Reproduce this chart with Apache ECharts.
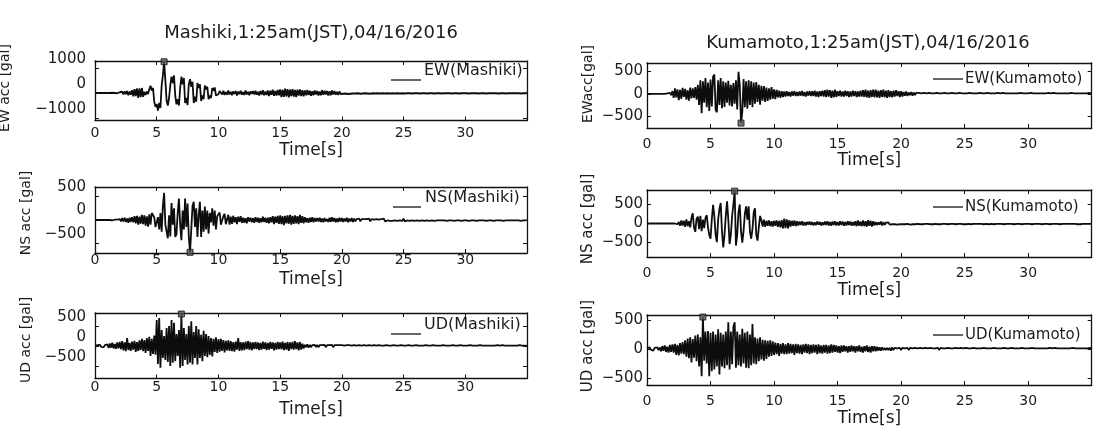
<!DOCTYPE html>
<html><head><meta charset="utf-8">
<script src="https://cdn.jsdelivr.net/npm/echarts@6/dist/echarts.min.js"></script>
<style>html,body{margin:0;padding:0;background:#fff}#c{width:1096px;height:428px}</style>
</head><body><div id="c"></div>
<script>
// ---- data (gal), one sample every DT seconds from 0 to 35 s ----
const DT = 0.1;
const X_TICKS = [0, 5, 10, 15, 20, 25, 30];
const TITLES = ['Mashiki,1:25am(JST),04/16/2016', 'Kumamoto,1:25am(JST),04/16/2016'];
const Y_NAMES = ['EW acc [gal]', 'NS acc [gal]', 'UD acc [gal]', 'EWacc[gal]', 'NS acc [gal]', 'UD acc [gal]'];
const LEGENDS = ['EW(Mashiki)', 'NS(Mashiki)', 'UD(Mashiki)', 'EW(Kumamoto)', 'NS(Kumamoto)', 'UD(Kumamoto)'];
const Y_TICKS_L1 = [-1000, 0, 1000];
const Y_TICKS = [-500, 0, 500];

const ewMashiki = [
0,0,0,0,0,0,0,0,0,0,
0,0,0,0,10,-10,0,10,-10,0,
30,-40,50,-60,70,-50,80,-90,60,-70,
110,-130,150,-120,180,-200,190,-170,200,-150,
50,-80,60,-40,150,290,100,200,-350,-550,
-450,-700,-400,-600,300,700,1250,500,-300,-500,
-200,300,650,400,700,-100,-450,-250,-500,200,
650,350,600,-400,-200,-480,350,550,250,450,
-400,-150,-350,400,200,350,-320,-100,-250,300,
150,250,-250,-100,-200,200,100,220,-100,-150,
-50,80,60,-60,90,-80,40,-70,100,-60,
50,-90,70,-40,80,-100,60,-50,90,-70,
40,-80,100,-60,50,-90,70,-40,80,-60,
90,-70,50,-100,80,-60,110,-90,60,-80,
100,-120,90,-70,130,-110,80,-100,120,-90,
140,-160,120,-150,170,-130,150,-170,130,-120,
150,-140,120,-160,130,-100,140,-120,110,-130,
100,-90,120,-80,90,-110,70,-90,100,-60,
80,-100,60,-90,110,-70,90,-60,80,-100,
70,-90,100,-60,80,-70,50,-80,60,-40,
30,-30,20,-20,40,-40,30,-30,20,-20,
20,-20,10,-10,30,-30,20,-20,10,-10,
20,-20,30,-30,10,-10,20,-20,10,-10,
20,-20,10,-10,20,-20,10,-10,20,-20,
10,-10,20,-20,10,-10,20,-20,10,-10,
20,-20,10,-10,10,-10,20,-20,10,-10,
10,-10,20,-20,10,-10,10,-10,20,-20,
10,-10,10,-10,20,-20,10,-10,10,-10,
20,-20,10,-10,10,-10,10,-10,20,-20,
10,-10,10,-10,20,-20,10,-10,10,-10,
10,-10,20,-20,10,-10,10,-10,10,-10,
20,-20,10,-10,10,-10,20,-20,10,-10,
10,-10,10,-10,10,-10,20,-20,10,-10,
10,-10,20,-20,10,-10,10,-10,10,-10,
10,-10,10,-10,20,-20,10,-10,10,-10,
0];

const nsMashiki = [
0,0,0,0,0,0,0,0,0,0,
0,0,0,10,-10,0,10,-10,10,0,
20,-30,40,-30,50,-40,30,-60,50,-40,
60,-50,80,-70,90,-100,70,-80,110,-90,
100,-120,80,-140,120,-100,150,180,60,-150,
-130,60,-200,150,-250,300,580,-100,-250,-390,
100,-350,360,-100,250,-360,-300,150,460,-100,
-430,200,-200,460,-150,350,-360,-690,-200,300,
390,-150,250,-360,100,390,-360,200,-250,290,
-200,200,-290,150,-50,250,-120,200,-200,80,
120,160,-100,-140,80,130,-90,-60,110,-100,
70,-80,90,-50,60,-90,70,-40,80,-60,
50,-60,40,-70,60,-30,50,-50,40,-60,
60,-40,50,-60,40,-50,70,-40,50,-60,
50,-70,60,-50,80,-90,70,-60,90,-80,
100,-90,80,-110,90,-70,100,-80,110,-100,
90,-80,100,-70,80,-90,110,-60,80,-70,
60,-50,40,-60,50,-40,60,-50,40,-30,
40,-30,50,-40,30,-50,40,-30,20,-40,
50,-40,60,-30,40,-50,30,-40,50,-30,
40,-40,30,-30,50,-50,30,-30,40,-40,
30,-30,20,-20,30,-30,20,-20,20,-20,
20,-20,30,-30,20,-20,10,-10,20,-20,
10,-10,20,-20,30,-30,10,-10,20,-20,
20,-20,10,-10,20,-20,10,-10,20,-20,
30,-30,10,-10,20,-20,10,-10,20,-20,
10,-10,20,-20,10,-10,20,-20,10,-10,
20,-20,10,-10,20,-20,10,-10,10,-10,
10,-10,10,-10,20,-20,10,-10,10,-10,
20,-20,10,-10,10,-10,20,-20,10,-10,
10,-10,20,-20,10,-10,10,-10,20,-20,
10,-10,10,-10,10,-10,20,-20,10,-10,
10,-10,20,-20,10,-10,10,-10,10,-10,
20,-20,10,-10,10,-10,10,-10,10,-10,
10,-10,10,-10,20,-20,10,-10,10,-10,
0];

const udMashiki = [
10,-20,20,-10,30,-20,10,-30,20,-10,
40,-50,60,-40,80,-60,50,-70,90,-60,
100,-80,120,-110,90,-130,200,-100,80,-120,
110,-90,130,-150,100,-120,140,-100,180,-130,
150,-170,200,-120,230,-250,180,-200,260,-220,
650,-450,700,-540,400,-300,250,-350,450,-400,
500,-500,650,-420,580,-380,300,-250,400,-540,
800,-500,450,-350,300,-460,500,-420,620,-460,
350,-300,500,-460,420,-300,280,-380,380,-250,
300,-280,250,-220,200,-260,180,-150,220,-170,
170,-140,180,-120,150,-160,130,-110,140,-120,
120,-130,100,-140,110,-90,200,-120,100,-110,
90,-100,110,-80,120,-90,100,-110,90,-80,
100,-80,90,-100,80,-90,110,-70,90,-100,
80,-90,100,-70,90,-110,80,-90,100,-80,
90,-80,110,-100,80,-90,100,-120,90,-80,
100,-90,120,-80,90,-110,100,-90,60,-60,
30,-30,40,-40,30,-30,20,-20,30,-30,
30,-30,20,-20,20,-20,30,-30,20,-20,
20,-20,30,-30,20,-20,20,-20,20,-20,
20,-20,10,-10,20,-20,20,-20,10,-10,
20,-20,10,-10,20,-20,10,-10,20,-20,
10,-10,20,-20,10,-10,20,-20,10,-10,
20,-20,10,-10,10,-10,20,-20,10,-10,
10,-10,20,-20,10,-10,10,-10,20,-20,
10,-10,10,-10,20,-20,10,-10,10,-10,
20,-20,10,-10,10,-10,10,-10,20,-20,
10,-10,10,-10,20,-20,10,-10,10,-10,
10,-10,20,-20,10,-10,10,-10,10,-10,
20,-20,10,-10,10,-10,20,-20,10,-10,
10,-10,10,-10,20,-20,10,-10,10,-10,
10,-10,20,-20,10,-10,10,-10,10,-10,
10,-10,10,-10,10,-10,20,-20,10,-10,
20,-20,10,-10,10,-10,10,-10,10,-10,
10,-10,10,-10,20,-20,10,-10,10,-10,
0];

const ewKumamoto = [
0,0,0,0,0,0,0,0,0,0,
0,0,0,0,0,0,10,-10,20,-30,
60,-90,120,-80,100,-140,90,-110,130,-70,
110,-130,80,-150,140,-100,120,-90,150,-130,
200,-250,300,-430,280,-200,350,-300,250,-380,
320,-280,380,430,-350,-410,300,-250,350,-320,
280,-290,250,-200,290,-260,200,-280,240,-220,
300,-350,490,200,-650,-400,330,-300,280,-330,
300,-250,280,-300,250,-220,260,-180,200,-240,
180,-150,170,-180,140,-160,120,-130,150,-110,
100,-120,90,-80,70,-90,60,-70,50,-60,
60,-50,40,-60,50,-40,60,-50,40,-50,
50,-40,60,-50,40,-60,50,-40,60,-50,
60,-50,70,-60,50,-70,60,-50,70,-60,
80,-70,90,-60,80,-90,70,-80,90,-70,
60,-50,70,-60,50,-60,70,-50,60,-70,
50,-60,70,-50,60,-70,50,-60,70,-60,
80,-70,90,-80,70,-90,80,-70,90,-80,
90,-80,70,-90,80,-70,90,-80,70,-90,
80,-70,60,-80,70,-60,80,-50,60,-70,
60,-60,40,-40,50,-50,30,-30,40,-40,
30,-30,20,-20,20,-20,10,-10,20,-20,
10,-10,20,-20,10,-10,10,-10,20,-20,
10,-10,10,-10,20,-20,10,-10,10,-10,
20,-20,10,-10,10,-10,20,-20,10,-10,
10,-10,10,-10,20,-20,10,-10,10,-10,
10,-10,20,-20,10,-10,10,-10,20,-20,
10,-10,10,-10,10,-10,20,-20,10,-10,
20,-20,10,-10,10,-10,10,-10,10,-10,
10,-10,10,-10,20,-20,10,-10,10,-10,
10,-10,20,-20,10,-10,10,-10,10,-10,
10,-10,10,-10,10,-10,20,-20,10,-10,
20,-20,10,-10,10,-10,10,-10,10,-10,
10,-10,10,-10,20,-20,10,-10,10,-10,
10,-10,10,-10,10,-10,10,-10,20,-20,
0];

const nsKumamoto = [
0,0,0,0,0,0,0,0,0,0,
0,0,0,0,0,0,0,0,0,0,
0,0,0,10,-20,40,-60,80,-50,70,
-90,110,-70,60,-100,150,270,-100,-220,120,
180,-150,200,-200,100,-120,150,220,-100,-300,
-400,100,490,200,-300,-490,100,380,540,-200,
-630,-300,200,580,100,-540,-300,200,500,850,
-580,-300,300,500,-200,-500,-200,250,450,100,
450,-200,-400,-150,300,400,-300,-450,-100,200,
90,-80,100,-90,70,-60,80,-70,60,-80,
70,-60,80,-90,70,-100,90,-130,130,-120,
110,-130,90,-80,70,-60,80,-70,60,-50,
50,-40,60,-50,40,-50,40,-30,50,-40,
40,-50,30,-40,50,-30,40,-50,30,-40,
50,-40,60,-50,40,-60,50,-40,60,-50,
40,-50,60,-40,50,-60,40,-50,60,-40,
50,-60,40,-50,60,-70,80,-60,50,-70,
80,-70,60,-80,90,-60,70,-80,60,-50,
40,-40,30,-30,50,-50,40,-40,20,-20,
30,-30,20,-20,20,-20,30,-30,20,-20,
20,-20,20,-20,10,-10,30,-30,20,-20,
20,-20,10,-10,20,-20,20,-20,10,-10,
10,-10,20,-20,20,-20,10,-10,20,-20,
20,-20,10,-10,10,-10,20,-20,10,-10,
10,-10,20,-20,10,-10,10,-10,20,-20,
20,-20,10,-10,20,-20,10,-10,10,-10,
10,-10,10,-10,20,-20,10,-10,20,-20,
10,-10,20,-20,10,-10,10,-10,10,-10,
20,-20,10,-10,10,-10,10,-10,20,-20,
10,-10,10,-10,20,-20,10,-10,10,-10,
10,-10,20,-20,10,-10,10,-10,10,-10,
20,-20,10,-10,10,-10,20,-20,10,-10,
10,-10,10,-10,20,-20,10,-10,10,-10,
10,-10,10,-10,10,-10,10,-10,20,-20,
20,-20,10,-10,10,-10,10,-10,10,-10,
0];

const udKumamoto = [
10,-20,30,-10,20,-30,20,-10,30,-20,
30,-40,50,-30,60,-50,40,-60,70,-50,
80,-60,90,-100,70,-110,100,-80,120,-90,
150,-130,180,-160,200,-230,170,-150,230,-210,
250,-300,200,-470,550,-200,300,-250,310,-470,
280,-380,300,-350,250,-300,340,-440,280,-300,
250,-330,300,-280,460,-350,300,-260,380,460,
-320,300,-280,250,-300,350,-250,280,-320,300,
-330,250,-280,430,-250,200,-260,180,-210,200,
-180,160,-200,150,-170,140,-130,150,-120,130,
-100,110,-90,100,-120,90,-80,100,-90,80,
-90,100,-80,90,-70,80,-100,90,-70,80,
-80,70,-90,80,-60,90,-70,80,-90,70,
-70,80,-60,70,-90,80,-70,60,-80,70,
-60,70,-80,60,-70,80,-60,70,-50,60,
-60,50,-70,60,-50,60,-40,50,-60,50,
-50,60,-40,50,-60,50,-40,60,-50,40,
-60,50,-40,60,-50,40,-60,50,-40,50,
-40,40,-30,30,-30,30,-20,20,-20,20,
-20,20,-30,30,-20,20,-10,10,-20,20,
-20,20,-10,10,-20,20,-20,20,-10,10,
-20,20,-10,10,-20,20,-10,10,-20,20,
-10,10,-20,20,-10,10,-10,10,-20,20,
-20,20,-10,10,-10,10,-20,20,-10,10,
-10,10,-20,20,-10,10,-20,20,-10,10,
-20,20,-10,10,-10,10,-20,20,-10,10,
-10,10,-10,10,-20,20,-10,10,-10,10,
-10,10,-20,20,-10,10,-10,10,-10,10,
-20,20,-10,10,-10,10,-20,20,-10,10,
-10,10,-10,10,-20,20,-10,10,-10,10,
-10,10,-20,20,-10,10,-10,10,-10,10,
-10,10,-10,10,-10,10,-20,20,-10,10,
-20,20,-10,10,-10,10,-10,10,-10,10,
-10,10,-10,10,-20,20,-10,10,-10,10,
-10,10,-10,10,-10,10,-10,10,-20,20,
0];

const TRACES = [ewMashiki, nsMashiki, udMashiki, ewKumamoto, nsKumamoto, udKumamoto];

// ---- layout / style (not data) ----
const FONT = '"DejaVu Sans", sans-serif';
const TXT = '#1c1c1c';
// lh: y-label line height (labels sit just above their tick, as in the source figure)
// yn: [x, y, fontSize] of rotated y name; lg: [lineX1, lineX2, lineY, textX, textY, fontSize]
const LAYOUT = [
  {left:95,  top:61,  width:432,   height:59.5, ymin:-1100, ymax:1280, ticks:Y_TICKS_L1, lh:18, lm:9, xm:5.5, ng:22,   yn:[5,88,14],    lg:[391,421,80,424,71,16]},
  {left:95,  top:187, width:432,   height:66,   ymin:-705,  ymax:705,  ticks:Y_TICKS,    lh:19, lm:9, xm:0,   ng:18.5, yn:[26,213,14],  lg:[393,421,207,425,198,16]},
  {left:95,  top:313, width:432,   height:65.5, ymin:-812,  ymax:825,  ticks:Y_TICKS,    lh:17, lm:9, xm:1.5, ng:23,   yn:[26,340,14],  lg:[391,421,334,424,325,16]},
  {left:647, top:63,  width:444.7, height:65,   ymin:-760,  ymax:685,  ticks:Y_TICKS,    lh:0,  lm:4, xm:9,   ng:24,   yn:[588,84,14],  lg:[933,963,79,965,79,15]},
  {left:647, top:190, width:444.7, height:67,   ymin:-880,  ymax:880,  ticks:Y_TICKS,    lh:0,  lm:4, xm:9,   ng:25,   yn:[588,219,15], lg:[933,963,207,965,207,15]},
  {left:647, top:315, width:444.7, height:70.5, ymin:-619,  ymax:585,  ticks:Y_TICKS,    lh:0,  lm:4, xm:9,   ng:25,   yn:[588,346,15], lg:[933,963,335,965,335,15]}
];

const minusFmt = v => v < 0 ? '\u2212' + Math.abs(v) : String(v);
const grids = [], xAxes = [], yAxes = [], series = [], graphics = [];

TRACES.forEach((vals, i) => {
  const L = LAYOUT[i];
  grids.push({left:L.left, top:L.top, width:L.width, height:L.height, containLabel:false});
  const axisLine = {show:true, onZero:false, lineStyle:{color:'#111', width:1.3}};
  const tickX = {show:true, inside:true, length:4, customValues:X_TICKS, lineStyle:{color:'#111', width:1}};
  const tickY = {show:true, inside:true, length:4, customValues:L.ticks, lineStyle:{color:'#111', width:1}};
  xAxes.push({gridIndex:i, type:'value', min:0, max:35, position:'bottom', axisLine, axisTick:tickX,
    axisLabel:{show:true, customValues:X_TICKS, margin:L.xm, fontFamily:FONT, fontSize:14, color:TXT},
    splitLine:{show:false}, name:'Time[s]', nameLocation:'middle', nameGap:L.ng,
    nameTextStyle:{fontFamily:FONT, fontSize:17, color:TXT}});
  xAxes.push({gridIndex:i, type:'value', min:0, max:35, position:'top', axisLine, axisTick:tickX,
    axisLabel:{show:false}, splitLine:{show:false}});
  const yLabel = {show:true, customValues:L.ticks, margin:L.lm, fontFamily:FONT, fontSize:15, color:TXT,
    formatter:minusFmt, hideOverlap:false};
  if (L.lh) { yLabel.verticalAlign = 'bottom'; yLabel.lineHeight = L.lh; }
  yAxes.push({gridIndex:i, type:'value', min:L.ymin, max:L.ymax, position:'left', axisLine, axisTick:tickY,
    axisLabel:yLabel, splitLine:{show:false}});
  yAxes.push({gridIndex:i, type:'value', min:L.ymin, max:L.ymax, position:'right', axisLine, axisTick:tickY,
    axisLabel:{show:false}, splitLine:{show:false}});
  series.push({type:'line', name:LEGENDS[i], xAxisIndex:2*i, yAxisIndex:2*i,
    data:vals.map((v, k) => [k * DT, v]), showSymbol:false, symbol:'none',
    lineStyle:{color:'#0d0d0d', width:1.8}, animation:false, silent:true});
  let pk = 0;
  vals.forEach((v, k) => { if (Math.abs(v) > Math.abs(vals[pk])) pk = k; });
  series.push({type:'scatter', xAxisIndex:2*i, yAxisIndex:2*i, data:[[pk * DT, vals[pk]]],
    symbol:'rect', symbolSize:6, itemStyle:{color:'#555', borderColor:'#111', borderWidth:1},
    clip:false, z:5, animation:false, silent:true});
  graphics.push({type:'text', x:L.yn[0], y:L.yn[1], rotation:Math.PI/2,
    style:{text:Y_NAMES[i], font:L.yn[2] + 'px ' + FONT, fill:TXT, textAlign:'center', textVerticalAlign:'middle', align:'center', verticalAlign:'middle'}});
  graphics.push({type:'line', shape:{x1:L.lg[0], y1:L.lg[2], x2:L.lg[1], y2:L.lg[2]}, style:{stroke:'#333', lineWidth:1.5}});
  graphics.push({type:'text', x:L.lg[3], y:L.lg[4],
    style:{text:LEGENDS[i], font:L.lg[5] + 'px ' + FONT, fill:TXT, textAlign:'left', textVerticalAlign:'middle', align:'left', verticalAlign:'middle'}});
});

const chart = echarts.init(document.getElementById('c'), null, {renderer:'canvas'});
chart.setOption({
  backgroundColor:'#fff',
  animation:false,
  title:[
    {text:TITLES[0], left:306, top:19, textAlign:'center', textStyle:{fontFamily:FONT, fontSize:18, fontWeight:'normal', color:TXT}},
    {text:TITLES[1], left:863, top:29, textAlign:'center', textStyle:{fontFamily:FONT, fontSize:18, fontWeight:'normal', color:TXT}}
  ],
  grid:grids, xAxis:xAxes, yAxis:yAxes, series:series, graphic:graphics
});
</script>
</body></html>
